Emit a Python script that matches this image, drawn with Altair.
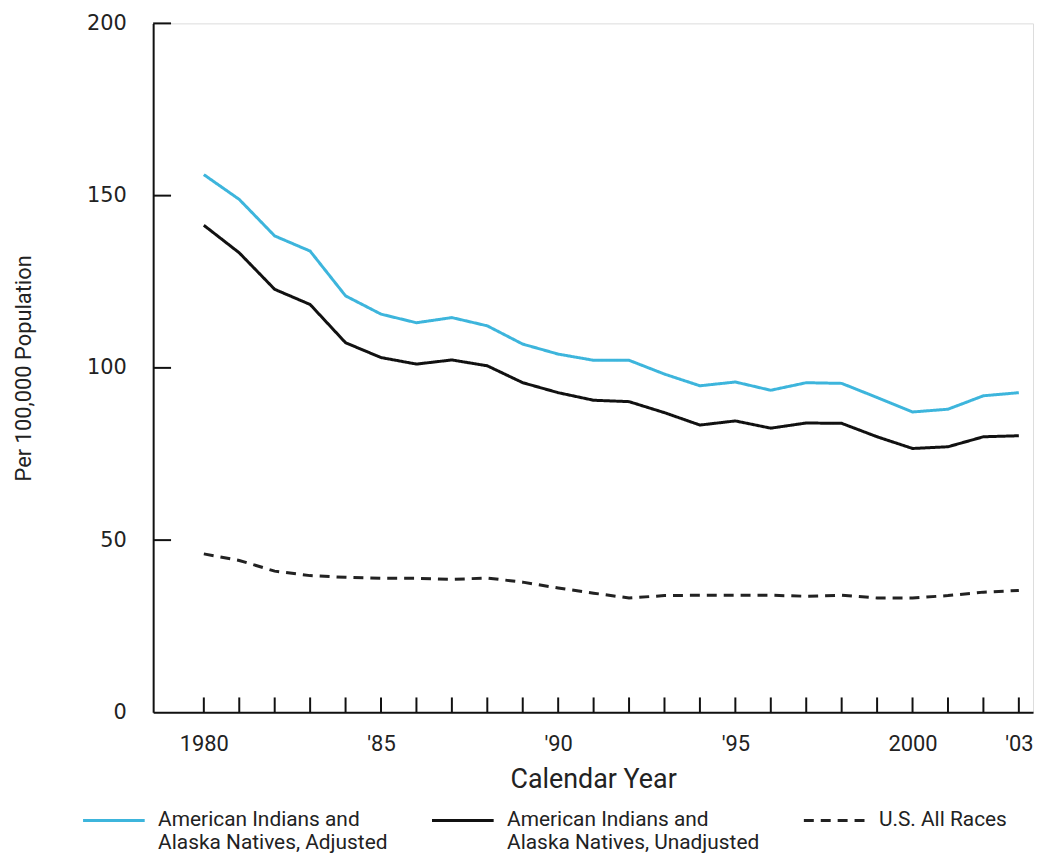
import altair as alt
import pandas as pd

years = list(range(1980, 2004))
adjusted = [156.1, 148.9, 138.3, 133.9, 120.9, 115.6, 113.1, 114.6, 112.2, 106.9,
            104.0, 102.2, 102.2, 98.2, 94.8, 95.9, 93.5, 95.7, 95.5, 91.4,
            87.2, 88.0, 91.9, 92.8]
unadjusted = [141.4, 133.4, 122.8, 118.4, 107.3, 103.0, 101.1, 102.3, 100.6, 95.7,
              92.8, 90.6, 90.2, 87.0, 83.4, 84.6, 82.5, 84.0, 83.9, 80.0,
              76.6, 77.1, 80.0, 80.3]
us_all = [46.0, 44.1, 41.0, 39.7, 39.2, 38.9, 38.9, 38.6, 39.0, 37.8,
          36.1, 34.6, 33.2, 33.9, 34.0, 34.0, 34.0, 33.7, 34.0, 33.2,
          33.2, 33.9, 34.9, 35.4]

series_names = [
    "American Indians and|Alaska Natives, Adjusted",
    "American Indians and|Alaska Natives, Unadjusted",
    "U.S. All Races|",
]
series_colors = ["#3db5dc", "#111111", "#222222"]
series_dash = [[1, 0], [1, 0], [10, 7]]

x_label_years = [1980, 1985, 1990, 1995, 2000, 2003]
y_tick_values = [0, 50, 100, 150, 200]
y_inner_ticks = [50, 100, 150, 200]

rows = []
for name, vals in zip(series_names, [adjusted, unadjusted, us_all]):
    for yr, v in zip(years, vals):
        rows.append({"year": yr, "value": v, "series": name})
df = pd.DataFrame(rows)

xscale = alt.Scale(domain=[1978.57, 2003.4], nice=False, zero=False)
yscale = alt.Scale(domain=[0, 200], nice=False)

xaxis = alt.Axis(
    title="Calendar Year", values=x_label_years,
    labelExpr="(datum.value == 1980 || datum.value == 2000) ? '' + datum.value : \"'\" + substring('' + datum.value, 2, 4)",
    ticks=False, grid=False, domainColor="#111", domainWidth=2,
    labelFont="Roboto", labelFontSize=22, labelColor="#222", labelPadding=21,
    labelFlush=False, labelOverlap=False,
    titleFont="Roboto", titleFontSize=27, titleFontWeight="normal", titleColor="#222",
    titlePadding=13,
)
yaxis = alt.Axis(
    title="Per 100,000 Population", values=y_tick_values,
    ticks=False, grid=False, domainColor="#111", domainWidth=2,
    labelFont="DejaVu Sans", labelFontSize=21, labelColor="#222", labelPadding=27,
    labelFlush=False, labelOverlap=False,
    titleFont="Roboto", titleFontSize=22, titleFontWeight="normal", titleColor="#222",
    titlePadding=51,
)

legend = alt.Legend(
    title=None, orient="none", legendX=-72, legendY=769, direction="horizontal",
    columns=3, columnPadding=38, padding=0,
    symbolType="stroke", symbolSize=3844, symbolStrokeWidth=3,
    labelFont="Roboto", labelFontSize=21, labelColor="#222", labelLimit=400,
    labelOffset=12, labelBaseline="middle",
    labelExpr="split(datum.label, '|')",
)

lines = alt.Chart(df).mark_line(strokeWidth=3).encode(
    x=alt.X("year:Q", scale=xscale, axis=xaxis),
    y=alt.Y("value:Q", scale=yscale, axis=yaxis),
    color=alt.Color("series:N", scale=alt.Scale(domain=series_names, range=series_colors), legend=legend),
    strokeDash=alt.StrokeDash("series:N", scale=alt.Scale(domain=series_names, range=series_dash), legend=legend),
)

xticks = alt.Chart(pd.DataFrame({"year": years})).mark_rule(color="#111", strokeWidth=2).encode(
    x=alt.X("year:Q", scale=xscale, axis=xaxis),
    y=alt.value(693), y2=alt.value(678),
)

yticks = alt.Chart(pd.DataFrame({"value": y_inner_ticks})).mark_rule(color="#111", strokeWidth=2).encode(
    y=alt.Y("value:Q", scale=yscale, axis=yaxis),
    x=alt.value(0), x2=alt.value(18),
)

chart = alt.layer(lines, xticks, yticks).properties(
    width=885, height=693,
    padding={"left": 146, "top": 13, "right": 3, "bottom": 143},
    autosize=alt.AutoSizeParams(type="none"),
).configure_view(strokeWidth=0).configure(font="Roboto")

chart.save("out.html", embed_options={"renderer": "svg", "actions": False})
